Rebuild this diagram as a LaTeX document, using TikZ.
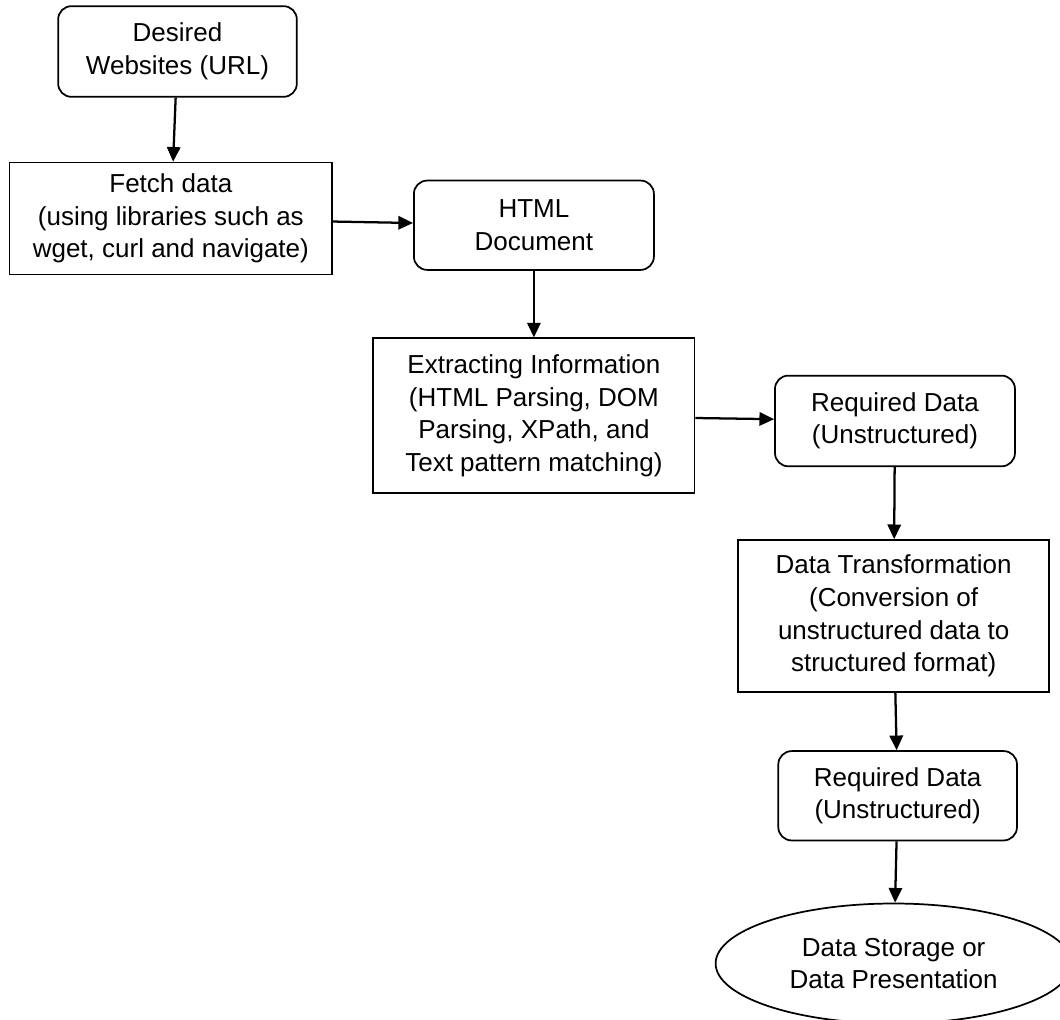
\documentclass[tikz,border=0pt]{standalone}
\usepackage{fontspec}
\setmainfont{Liberation Sans}
\usepackage{tikz}
\usetikzlibrary{shapes.geometric, arrows.meta, positioning}

\begin{document}
\begin{tikzpicture}[x=0.75pt, y=-0.75pt]
		\tikzset{
			node distance=48pt and 60pt,
			step box/.style={rectangle, draw, solid, black, line width=1.3pt, align=center,
			font=\fontsize{19.5}{24.4}\selectfont, inner sep=0pt},
			data box/.style={step box, rounded corners=10pt},
			end oval/.style={ellipse, draw, black, line width=1.3pt, align=center,
			font=\fontsize{19.5}{24.4}\selectfont, inner sep=0pt},
			flow/.style={-{Triangle[length=11pt, width=10pt]}, line width=1.7pt}
		}
		\useasboundingbox (0,0) rectangle (1060,1020);

		\node[data box, minimum width=179pt, minimum height=68pt] (url) at (177.5,51.5) {Desired\\Websites (URL)};
		\node[step box, minimum width=242pt, minimum height=84pt, below=48pt of url, xshift=-5pt] (fetch) {Fetch data\\(using libraries such as\\wget, curl and navigate)};
		\node[data box, minimum width=180pt, minimum height=67pt, right=60pt of fetch, yshift=-5pt] (html) {HTML\\Document};
		\node[step box, minimum width=241pt, minimum height=116pt, below=50pt of html] (extract) {Extracting Information\\(HTML Parsing, DOM\\Parsing, XPath, and\\Text pattern matching)};
		\node[data box, minimum width=180pt, minimum height=68pt, right=59pt of extract, yshift=-4pt] (rawdata) {Required Data\\(Unstructured)};
		\node[step box, minimum width=233pt, minimum height=114pt, below=54pt of rawdata, xshift=-1pt] (transform) {Data Transformation\\(Conversion of\\unstructured data to\\structured format)};
		\node[data box, minimum width=179pt, minimum height=67pt, below=43pt of transform, xshift=3pt] (cleandata) {Required Data\\(Unstructured)};
		\node[end oval, minimum width=267pt, minimum height=90pt, below=46pt of cleandata, xshift=-3pt] (store) {Data Storage or\\Data Presentation};

		\draw[flow](url) -- (fetch);
		\draw[flow](fetch) -- (html);
		\draw[flow](html) -- (extract);
		\draw[flow](extract) -- (rawdata);
		\draw[flow](rawdata) -- (transform);
		\draw[flow](transform) -- (cleandata);
		\draw[flow](cleandata) -- (store);

\end{tikzpicture}
\end{document}
